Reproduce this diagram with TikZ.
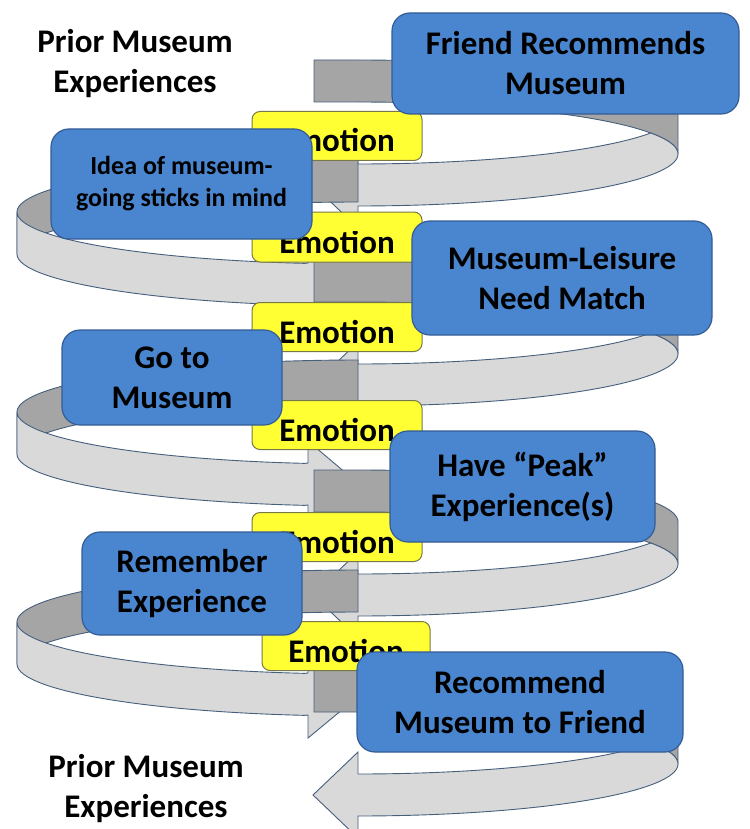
\documentclass[tikz,border=0pt]{standalone}
\usepackage{fontspec}
\setmainfont{Carlito}
\usepackage{tikz}
\definecolor{boxblue}{RGB}{74,134,207}
\definecolor{boxline}{RGB}{52,92,150}
\definecolor{emofill}{RGB}{255,255,51}
\definecolor{emoline}{RGB}{120,120,70}
\definecolor{bandlight}{RGB}{217,217,217}
\definecolor{banddark}{RGB}{165,165,165}
\definecolor{bandline}{RGB}{70,95,125}
\tikzset{
	txt/.style = {align=center, inner sep=0pt, text centered,
		font=\bfseries\fontsize{33}{40}\selectfont},
	stage/.style = {txt, rectangle, rounded corners=18pt, draw=boxline,
		fill=boxblue, line width=1.2pt},
	feel/.style = {txt, rectangle, rounded corners=8pt, draw=emoline,
		fill=emofill, line width=1pt, minimum width=170pt, minimum height=49pt,
		text height=32pt, text depth=0pt},
	band_back/.style = {draw=bandline, fill=banddark, line width=0.9pt, samples=60},
	band_front/.style = {draw=bandline, fill=bandlight, line width=0.9pt, samples=60}
}
% half turn of the ribbon out to the right, #1 = top of the band at the spine
\newcommand{\ribbonright}[1]{
	\draw [band_back] (314,#1) -- plot[domain=-90:0] ({358+320*cos(\x)},{#1+52+52*sin(\x)})
		-- plot[domain=0:-90] ({358+320*cos(\x)},{#1+94+52*sin(\x)}) -- (314,#1+42) -- cycle;
	\draw [band_front] (358,#1+104) -- (358,#1+82) -- (313,#1+125) -- (358,#1+168) -- (358,#1+146)
		-- plot[domain=90:-23.8] ({358+320*cos(\x)},{#1+94+52*sin(\x)})
		-- plot[domain=23.8:90] ({358+320*cos(\x)},{#1+52+52*sin(\x)}) -- cycle;
}
% half turn out to the left
\newcommand{\ribbonleft}[1]{
	\draw [band_back] plot[domain=-90:-180] ({358+341*cos(\x)},{#1+52+52*sin(\x)})
		-- plot[domain=-180:-90] ({358+341*cos(\x)},{#1+94+52*sin(\x)}) -- cycle;
	\draw [band_front] (308,#1+103) -- (308,#1+81) -- (360,#1+125) -- (308,#1+168) -- (308,#1+145)
		-- plot[domain=99:180] ({358+341*cos(\x)},{#1+94+52*sin(\x)})
		-- plot[domain=180:99] ({358+341*cos(\x)},{#1+52+52*sin(\x)}) -- cycle;
}

\begin{document}
\begin{tikzpicture}[x=1pt, y=-1pt]
\useasboundingbox (0,0) rectangle (749,829);

% the spiral, top to bottom
\ribbonright{60}
\ribbonleft{160}
\ribbonright{260}
\ribbonleft{360}
\ribbonright{470}
\ribbonleft{570}
\ribbonright{670}

% emotion tags on the spine
\node [feel] (emo1) at (337,136) {Emotion};
\node [feel, minimum height=50pt] (emo2) at (337,237) {};
\begin{scope}
	\clip (252,231) rectangle (422,262);
	\node [txt, text height=32pt, text depth=0pt] (emo2txt) at (337,237) {Emotion};
\end{scope}
\node [feel] (emo3) at (337,327) {Emotion};
\node [feel] (emo4) at (337,425) {Emotion};
\node [feel] (emo5) at (337,537) {Emotion};
\node [feel, minimum width=168pt] (emo6) at (346,646) {Emotion};

% stages
\node [stage, minimum width=347pt, minimum height=101pt] (friend) at (565.5,63.5) {Friend Recommends\\Museum};
\node [stage, minimum width=261pt, minimum height=110pt,
	font=\bfseries\fontsize{26}{32}\selectfont] (idea) at (181.5,184) {Idea of museum-\\going sticks in mind};
\node [stage, minimum width=300pt, minimum height=114pt] (match) at (562,278) {Museum-Leisure\\Need Match};
\node [stage, minimum width=220pt, minimum height=95pt] (visit) at (172,377.5) {Go to\\Museum};
\node [stage, minimum width=265pt, minimum height=111pt] (peak) at (522.5,486.5) {Have “Peak”\\Experience(s)};
\node [stage, minimum width=220pt, minimum height=103pt] (remember) at (192,583.5) {Remember\\Experience};
\node [stage, minimum width=326pt, minimum height=100pt] (recommend) at (520,702) {Recommend\\Museum to Friend};

\node [txt] (prior_top) at (135,64) {Prior Museum\\Experiences};
\node [txt] (prior_bot) at (146,789) {Prior Museum\\Experiences};
\end{tikzpicture}
\end{document}
